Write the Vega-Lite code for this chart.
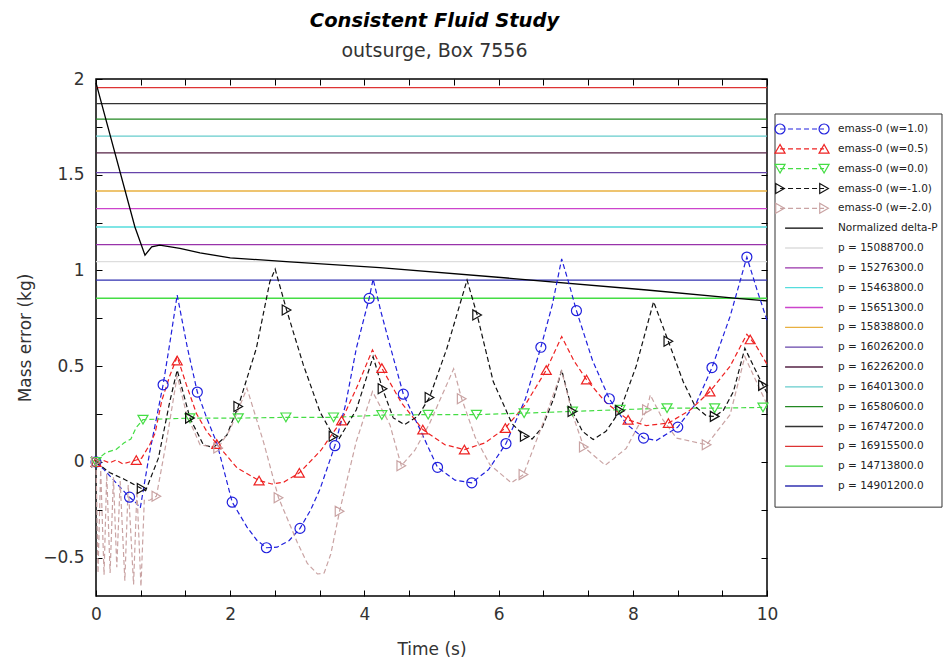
{
  "$schema": "https://vega.github.io/schema/vega-lite/v6.json",
  "padding": {"left": 15, "top": 10, "right": 0, "bottom": 0},
  "background": "white",
  "title": {"text": "Consistent Fluid Study", "subtitle": "outsurge, Box 7556", "font": "DejaVu Sans", "fontSize": 19.5, "fontStyle": "italic", "fontWeight": "bold", "color": "#000", "subtitleFont": "DejaVu Sans", "subtitleFontSize": 19, "subtitleColor": "#333", "subtitlePadding": 11, "offset": 7, "anchor": "middle", "dx": -45},
  "spacing": 8,
  "bounds": "flush",
  "datasets": {
    "plines": [
      {"s": "p = 14713800.0", "m": 0.855},
      {"s": "p = 14901200.0", "m": 0.950},
      {"s": "p = 15088700.0", "m": 1.046},
      {"s": "p = 15276300.0", "m": 1.135},
      {"s": "p = 15463800.0", "m": 1.227},
      {"s": "p = 15651300.0", "m": 1.323},
      {"s": "p = 15838800.0", "m": 1.415},
      {"s": "p = 16026200.0", "m": 1.511},
      {"s": "p = 16226200.0", "m": 1.614},
      {"s": "p = 16401300.0", "m": 1.702},
      {"s": "p = 16580600.0", "m": 1.790},
      {"s": "p = 16747200.0", "m": 1.871},
      {"s": "p = 16915500.0", "m": 1.955}
    ],
    "dp": [
      {"t": 0, "m": 1.98}, {"t": 0.58, "m": 1.227}, {"t": 0.73, "m": 1.08}, {"t": 0.83, "m": 1.123}, {"t": 0.95, "m": 1.132}, {"t": 1.25, "m": 1.115}, {"t": 1.55, "m": 1.092}, {"t": 2.0, "m": 1.066}, {"t": 2.89, "m": 1.045}, {"t": 4.23, "m": 1.015}, {"t": 6.22, "m": 0.958}, {"t": 8.21, "m": 0.898}, {"t": 9.55, "m": 0.854}, {"t": 10, "m": 0.841}
    ],
    "lines": [
      {"s": "emass-0 (w=1.0)", "t": 0, "m": 0}, {"s": "emass-0 (w=1.0)", "t": 0.12, "m": -0.04}, {"s": "emass-0 (w=1.0)", "t": 0.25, "m": -0.09}, {"s": "emass-0 (w=1.0)", "t": 0.38, "m": -0.14}, {"s": "emass-0 (w=1.0)", "t": 0.5, "m": -0.184}, {"s": "emass-0 (w=1.0)", "t": 0.6, "m": -0.215}, {"s": "emass-0 (w=1.0)", "t": 0.66, "m": -0.24}, {"s": "emass-0 (w=1.0)", "t": 0.8, "m": 0.05}, {"s": "emass-0 (w=1.0)", "t": 1.0, "m": 0.403}, {"s": "emass-0 (w=1.0)", "t": 1.1, "m": 0.62}, {"s": "emass-0 (w=1.0)", "t": 1.21, "m": 0.872}, {"s": "emass-0 (w=1.0)", "t": 1.36, "m": 0.6}, {"s": "emass-0 (w=1.0)", "t": 1.51, "m": 0.365}, {"s": "emass-0 (w=1.0)", "t": 1.66, "m": 0.22}, {"s": "emass-0 (w=1.0)", "t": 1.8, "m": 0.1}, {"s": "emass-0 (w=1.0)", "t": 2.03, "m": -0.21}, {"s": "emass-0 (w=1.0)", "t": 2.25, "m": -0.34}, {"s": "emass-0 (w=1.0)", "t": 2.4, "m": -0.41}, {"s": "emass-0 (w=1.0)", "t": 2.54, "m": -0.448}, {"s": "emass-0 (w=1.0)", "t": 2.7, "m": -0.445}, {"s": "emass-0 (w=1.0)", "t": 2.88, "m": -0.41}, {"s": "emass-0 (w=1.0)", "t": 3.04, "m": -0.347}, {"s": "emass-0 (w=1.0)", "t": 3.2, "m": -0.25}, {"s": "emass-0 (w=1.0)", "t": 3.34, "m": -0.14}, {"s": "emass-0 (w=1.0)", "t": 3.56, "m": 0.085}, {"s": "emass-0 (w=1.0)", "t": 3.72, "m": 0.3}, {"s": "emass-0 (w=1.0)", "t": 3.88, "m": 0.594}, {"s": "emass-0 (w=1.0)", "t": 4.07, "m": 0.854}, {"s": "emass-0 (w=1.0)", "t": 4.13, "m": 0.955}, {"s": "emass-0 (w=1.0)", "t": 4.25, "m": 0.78}, {"s": "emass-0 (w=1.0)", "t": 4.38, "m": 0.61}, {"s": "emass-0 (w=1.0)", "t": 4.58, "m": 0.354}, {"s": "emass-0 (w=1.0)", "t": 4.83, "m": 0.169}, {"s": "emass-0 (w=1.0)", "t": 5.09, "m": -0.028}, {"s": "emass-0 (w=1.0)", "t": 5.35, "m": -0.095}, {"s": "emass-0 (w=1.0)", "t": 5.6, "m": -0.109}, {"s": "emass-0 (w=1.0)", "t": 5.85, "m": -0.04}, {"s": "emass-0 (w=1.0)", "t": 6.11, "m": 0.096}, {"s": "emass-0 (w=1.0)", "t": 6.4, "m": 0.33}, {"s": "emass-0 (w=1.0)", "t": 6.63, "m": 0.599}, {"s": "emass-0 (w=1.0)", "t": 6.8, "m": 0.82}, {"s": "emass-0 (w=1.0)", "t": 6.94, "m": 1.06}, {"s": "emass-0 (w=1.0)", "t": 7.05, "m": 0.93}, {"s": "emass-0 (w=1.0)", "t": 7.16, "m": 0.79}, {"s": "emass-0 (w=1.0)", "t": 7.4, "m": 0.53}, {"s": "emass-0 (w=1.0)", "t": 7.65, "m": 0.33}, {"s": "emass-0 (w=1.0)", "t": 7.9, "m": 0.2}, {"s": "emass-0 (w=1.0)", "t": 8.16, "m": 0.125}, {"s": "emass-0 (w=1.0)", "t": 8.35, "m": 0.112}, {"s": "emass-0 (w=1.0)", "t": 8.67, "m": 0.182}, {"s": "emass-0 (w=1.0)", "t": 8.95, "m": 0.31}, {"s": "emass-0 (w=1.0)", "t": 9.18, "m": 0.493}, {"s": "emass-0 (w=1.0)", "t": 9.45, "m": 0.76}, {"s": "emass-0 (w=1.0)", "t": 9.7, "m": 1.07}, {"s": "emass-0 (w=1.0)", "t": 9.85, "m": 0.9}, {"s": "emass-0 (w=1.0)", "t": 10, "m": 0.74},

      {"s": "emass-0 (w=0.5)", "t": 0, "m": 0}, {"s": "emass-0 (w=0.5)", "t": 0.1, "m": 0.01}, {"s": "emass-0 (w=0.5)", "t": 0.2, "m": -0.005}, {"s": "emass-0 (w=0.5)", "t": 0.3, "m": 0.01}, {"s": "emass-0 (w=0.5)", "t": 0.4, "m": -0.01}, {"s": "emass-0 (w=0.5)", "t": 0.5, "m": 0.0}, {"s": "emass-0 (w=0.5)", "t": 0.6, "m": 0.01}, {"s": "emass-0 (w=0.5)", "t": 0.68, "m": 0.02}, {"s": "emass-0 (w=0.5)", "t": 0.8, "m": 0.09}, {"s": "emass-0 (w=0.5)", "t": 0.88, "m": 0.15}, {"s": "emass-0 (w=0.5)", "t": 0.98, "m": 0.32}, {"s": "emass-0 (w=0.5)", "t": 1.1, "m": 0.45}, {"s": "emass-0 (w=0.5)", "t": 1.21, "m": 0.55}, {"s": "emass-0 (w=0.5)", "t": 1.35, "m": 0.4}, {"s": "emass-0 (w=0.5)", "t": 1.5, "m": 0.25}, {"s": "emass-0 (w=0.5)", "t": 1.65, "m": 0.16}, {"s": "emass-0 (w=0.5)", "t": 1.8, "m": 0.094}, {"s": "emass-0 (w=0.5)", "t": 2.1, "m": -0.03}, {"s": "emass-0 (w=0.5)", "t": 2.43, "m": -0.097}, {"s": "emass-0 (w=0.5)", "t": 2.62, "m": -0.115}, {"s": "emass-0 (w=0.5)", "t": 2.8, "m": -0.105}, {"s": "emass-0 (w=0.5)", "t": 3.03, "m": -0.057}, {"s": "emass-0 (w=0.5)", "t": 3.35, "m": 0.06}, {"s": "emass-0 (w=0.5)", "t": 3.66, "m": 0.216}, {"s": "emass-0 (w=0.5)", "t": 3.9, "m": 0.4}, {"s": "emass-0 (w=0.5)", "t": 4.12, "m": 0.585}, {"s": "emass-0 (w=0.5)", "t": 4.26, "m": 0.49}, {"s": "emass-0 (w=0.5)", "t": 4.55, "m": 0.31}, {"s": "emass-0 (w=0.5)", "t": 4.87, "m": 0.169}, {"s": "emass-0 (w=0.5)", "t": 5.2, "m": 0.09}, {"s": "emass-0 (w=0.5)", "t": 5.49, "m": 0.065}, {"s": "emass-0 (w=0.5)", "t": 5.8, "m": 0.1}, {"s": "emass-0 (w=0.5)", "t": 6.1, "m": 0.177}, {"s": "emass-0 (w=0.5)", "t": 6.4, "m": 0.3}, {"s": "emass-0 (w=0.5)", "t": 6.71, "m": 0.48}, {"s": "emass-0 (w=0.5)", "t": 6.94, "m": 0.655}, {"s": "emass-0 (w=0.5)", "t": 7.12, "m": 0.53}, {"s": "emass-0 (w=0.5)", "t": 7.31, "m": 0.43}, {"s": "emass-0 (w=0.5)", "t": 7.6, "m": 0.31}, {"s": "emass-0 (w=0.5)", "t": 7.93, "m": 0.22}, {"s": "emass-0 (w=0.5)", "t": 8.2, "m": 0.19}, {"s": "emass-0 (w=0.5)", "t": 8.53, "m": 0.203}, {"s": "emass-0 (w=0.5)", "t": 8.85, "m": 0.27}, {"s": "emass-0 (w=0.5)", "t": 9.15, "m": 0.368}, {"s": "emass-0 (w=0.5)", "t": 9.45, "m": 0.5}, {"s": "emass-0 (w=0.5)", "t": 9.7, "m": 0.667}, {"s": "emass-0 (w=0.5)", "t": 9.85, "m": 0.6}, {"s": "emass-0 (w=0.5)", "t": 10, "m": 0.51},

      {"s": "emass-0 (w=0.0)", "t": 0, "m": 0}, {"s": "emass-0 (w=0.0)", "t": 0.08, "m": 0.03}, {"s": "emass-0 (w=0.0)", "t": 0.15, "m": 0.05}, {"s": "emass-0 (w=0.0)", "t": 0.3, "m": 0.065}, {"s": "emass-0 (w=0.0)", "t": 0.42, "m": 0.1}, {"s": "emass-0 (w=0.0)", "t": 0.52, "m": 0.12}, {"s": "emass-0 (w=0.0)", "t": 0.6, "m": 0.18}, {"s": "emass-0 (w=0.0)", "t": 0.7, "m": 0.221}, {"s": "emass-0 (w=0.0)", "t": 1.4, "m": 0.229}, {"s": "emass-0 (w=0.0)", "t": 2.12, "m": 0.229}, {"s": "emass-0 (w=0.0)", "t": 2.83, "m": 0.233}, {"s": "emass-0 (w=0.0)", "t": 3.54, "m": 0.233}, {"s": "emass-0 (w=0.0)", "t": 4.26, "m": 0.245}, {"s": "emass-0 (w=0.0)", "t": 4.95, "m": 0.247}, {"s": "emass-0 (w=0.0)", "t": 5.67, "m": 0.247}, {"s": "emass-0 (w=0.0)", "t": 6.38, "m": 0.255}, {"s": "emass-0 (w=0.0)", "t": 7.1, "m": 0.264}, {"s": "emass-0 (w=0.0)", "t": 7.81, "m": 0.273}, {"s": "emass-0 (w=0.0)", "t": 8.51, "m": 0.281}, {"s": "emass-0 (w=0.0)", "t": 9.22, "m": 0.281}, {"s": "emass-0 (w=0.0)", "t": 9.94, "m": 0.285}, {"s": "emass-0 (w=0.0)", "t": 10, "m": 0.285},

      {"s": "emass-0 (w=-1.0)", "t": 0, "m": 0}, {"s": "emass-0 (w=-1.0)", "t": 0.2, "m": -0.055}, {"s": "emass-0 (w=-1.0)", "t": 0.42, "m": -0.09}, {"s": "emass-0 (w=-1.0)", "t": 0.68, "m": -0.139}, {"s": "emass-0 (w=-1.0)", "t": 0.74, "m": -0.15}, {"s": "emass-0 (w=-1.0)", "t": 0.93, "m": 0.02}, {"s": "emass-0 (w=-1.0)", "t": 1.1, "m": 0.316}, {"s": "emass-0 (w=-1.0)", "t": 1.21, "m": 0.48}, {"s": "emass-0 (w=-1.0)", "t": 1.4, "m": 0.229}, {"s": "emass-0 (w=-1.0)", "t": 1.6, "m": 0.09}, {"s": "emass-0 (w=-1.0)", "t": 1.75, "m": 0.075}, {"s": "emass-0 (w=-1.0)", "t": 1.95, "m": 0.14}, {"s": "emass-0 (w=-1.0)", "t": 2.12, "m": 0.29}, {"s": "emass-0 (w=-1.0)", "t": 2.39, "m": 0.594}, {"s": "emass-0 (w=-1.0)", "t": 2.59, "m": 0.94}, {"s": "emass-0 (w=-1.0)", "t": 2.67, "m": 1.007}, {"s": "emass-0 (w=-1.0)", "t": 2.84, "m": 0.794}, {"s": "emass-0 (w=-1.0)", "t": 3.09, "m": 0.507}, {"s": "emass-0 (w=-1.0)", "t": 3.34, "m": 0.26}, {"s": "emass-0 (w=-1.0)", "t": 3.54, "m": 0.134}, {"s": "emass-0 (w=-1.0)", "t": 3.62, "m": 0.12}, {"s": "emass-0 (w=-1.0)", "t": 3.88, "m": 0.273}, {"s": "emass-0 (w=-1.0)", "t": 4.13, "m": 0.55}, {"s": "emass-0 (w=-1.0)", "t": 4.27, "m": 0.382}, {"s": "emass-0 (w=-1.0)", "t": 4.43, "m": 0.23}, {"s": "emass-0 (w=-1.0)", "t": 4.6, "m": 0.195}, {"s": "emass-0 (w=-1.0)", "t": 4.8, "m": 0.24}, {"s": "emass-0 (w=-1.0)", "t": 4.97, "m": 0.337}, {"s": "emass-0 (w=-1.0)", "t": 5.23, "m": 0.594}, {"s": "emass-0 (w=-1.0)", "t": 5.53, "m": 0.95}, {"s": "emass-0 (w=-1.0)", "t": 5.68, "m": 0.768}, {"s": "emass-0 (w=-1.0)", "t": 5.92, "m": 0.42}, {"s": "emass-0 (w=-1.0)", "t": 6.2, "m": 0.2}, {"s": "emass-0 (w=-1.0)", "t": 6.39, "m": 0.134}, {"s": "emass-0 (w=-1.0)", "t": 6.5, "m": 0.12}, {"s": "emass-0 (w=-1.0)", "t": 6.65, "m": 0.18}, {"s": "emass-0 (w=-1.0)", "t": 6.82, "m": 0.33}, {"s": "emass-0 (w=-1.0)", "t": 6.94, "m": 0.48}, {"s": "emass-0 (w=-1.0)", "t": 7.1, "m": 0.264}, {"s": "emass-0 (w=-1.0)", "t": 7.25, "m": 0.16}, {"s": "emass-0 (w=-1.0)", "t": 7.41, "m": 0.117}, {"s": "emass-0 (w=-1.0)", "t": 7.6, "m": 0.16}, {"s": "emass-0 (w=-1.0)", "t": 7.81, "m": 0.268}, {"s": "emass-0 (w=-1.0)", "t": 8.05, "m": 0.5}, {"s": "emass-0 (w=-1.0)", "t": 8.31, "m": 0.837}, {"s": "emass-0 (w=-1.0)", "t": 8.53, "m": 0.63}, {"s": "emass-0 (w=-1.0)", "t": 8.75, "m": 0.42}, {"s": "emass-0 (w=-1.0)", "t": 8.93, "m": 0.29}, {"s": "emass-0 (w=-1.0)", "t": 9.1, "m": 0.24}, {"s": "emass-0 (w=-1.0)", "t": 9.22, "m": 0.238}, {"s": "emass-0 (w=-1.0)", "t": 9.35, "m": 0.27}, {"s": "emass-0 (w=-1.0)", "t": 9.5, "m": 0.368}, {"s": "emass-0 (w=-1.0)", "t": 9.67, "m": 0.594}, {"s": "emass-0 (w=-1.0)", "t": 9.8, "m": 0.5}, {"s": "emass-0 (w=-1.0)", "t": 9.94, "m": 0.4}, {"s": "emass-0 (w=-1.0)", "t": 10, "m": 0.36},

      {"s": "emass-0 (w=-2.0)", "t": 0, "m": 0}, {"s": "emass-0 (w=-2.0)", "t": 0.03, "m": -0.58}, {"s": "emass-0 (w=-2.0)", "t": 0.07, "m": -0.04}, {"s": "emass-0 (w=-2.0)", "t": 0.12, "m": -0.59}, {"s": "emass-0 (w=-2.0)", "t": 0.16, "m": -0.06}, {"s": "emass-0 (w=-2.0)", "t": 0.21, "m": -0.58}, {"s": "emass-0 (w=-2.0)", "t": 0.26, "m": -0.08}, {"s": "emass-0 (w=-2.0)", "t": 0.31, "m": -0.55}, {"s": "emass-0 (w=-2.0)", "t": 0.36, "m": -0.1}, {"s": "emass-0 (w=-2.0)", "t": 0.43, "m": -0.62}, {"s": "emass-0 (w=-2.0)", "t": 0.48, "m": -0.12}, {"s": "emass-0 (w=-2.0)", "t": 0.56, "m": -0.64}, {"s": "emass-0 (w=-2.0)", "t": 0.61, "m": -0.15}, {"s": "emass-0 (w=-2.0)", "t": 0.67, "m": -0.65}, {"s": "emass-0 (w=-2.0)", "t": 0.72, "m": -0.2}, {"s": "emass-0 (w=-2.0)", "t": 0.8, "m": -0.2}, {"s": "emass-0 (w=-2.0)", "t": 0.9, "m": -0.179}, {"s": "emass-0 (w=-2.0)", "t": 1.05, "m": 0.108}, {"s": "emass-0 (w=-2.0)", "t": 1.21, "m": 0.45}, {"s": "emass-0 (w=-2.0)", "t": 1.35, "m": 0.25}, {"s": "emass-0 (w=-2.0)", "t": 1.55, "m": 0.09}, {"s": "emass-0 (w=-2.0)", "t": 1.82, "m": 0.073}, {"s": "emass-0 (w=-2.0)", "t": 2.0, "m": 0.17}, {"s": "emass-0 (w=-2.0)", "t": 2.25, "m": 0.385}, {"s": "emass-0 (w=-2.0)", "t": 2.5, "m": 0.1}, {"s": "emass-0 (w=-2.0)", "t": 2.72, "m": -0.187}, {"s": "emass-0 (w=-2.0)", "t": 3.0, "m": -0.42}, {"s": "emass-0 (w=-2.0)", "t": 3.15, "m": -0.53}, {"s": "emass-0 (w=-2.0)", "t": 3.3, "m": -0.585}, {"s": "emass-0 (w=-2.0)", "t": 3.4, "m": -0.58}, {"s": "emass-0 (w=-2.0)", "t": 3.5, "m": -0.48}, {"s": "emass-0 (w=-2.0)", "t": 3.63, "m": -0.257}, {"s": "emass-0 (w=-2.0)", "t": 3.88, "m": 0.108}, {"s": "emass-0 (w=-2.0)", "t": 4.12, "m": 0.368}, {"s": "emass-0 (w=-2.0)", "t": 4.38, "m": 0.195}, {"s": "emass-0 (w=-2.0)", "t": 4.55, "m": -0.02}, {"s": "emass-0 (w=-2.0)", "t": 4.75, "m": 0.06}, {"s": "emass-0 (w=-2.0)", "t": 4.97, "m": 0.2}, {"s": "emass-0 (w=-2.0)", "t": 5.33, "m": 0.486}, {"s": "emass-0 (w=-2.0)", "t": 5.45, "m": 0.33}, {"s": "emass-0 (w=-2.0)", "t": 5.65, "m": 0.13}, {"s": "emass-0 (w=-2.0)", "t": 5.87, "m": -0.014}, {"s": "emass-0 (w=-2.0)", "t": 6.19, "m": -0.109}, {"s": "emass-0 (w=-2.0)", "t": 6.37, "m": -0.066}, {"s": "emass-0 (w=-2.0)", "t": 6.71, "m": 0.247}, {"s": "emass-0 (w=-2.0)", "t": 6.94, "m": 0.476}, {"s": "emass-0 (w=-2.0)", "t": 7.1, "m": 0.25}, {"s": "emass-0 (w=-2.0)", "t": 7.27, "m": 0.078}, {"s": "emass-0 (w=-2.0)", "t": 7.59, "m": -0.017}, {"s": "emass-0 (w=-2.0)", "t": 7.9, "m": 0.07}, {"s": "emass-0 (w=-2.0)", "t": 8.21, "m": 0.273}, {"s": "emass-0 (w=-2.0)", "t": 8.26, "m": 0.35}, {"s": "emass-0 (w=-2.0)", "t": 8.45, "m": 0.22}, {"s": "emass-0 (w=-2.0)", "t": 8.65, "m": 0.125}, {"s": "emass-0 (w=-2.0)", "t": 9.1, "m": 0.09}, {"s": "emass-0 (w=-2.0)", "t": 9.45, "m": 0.247}, {"s": "emass-0 (w=-2.0)", "t": 9.67, "m": 0.55}, {"s": "emass-0 (w=-2.0)", "t": 10, "m": 0.3}
    ],
    "pts": [
      {"s": "emass-0 (w=1.0)", "t": 0, "m": 0}, {"s": "emass-0 (w=1.0)", "t": 0.5, "m": -0.184}, {"s": "emass-0 (w=1.0)", "t": 1.0, "m": 0.403}, {"s": "emass-0 (w=1.0)", "t": 1.51, "m": 0.365}, {"s": "emass-0 (w=1.0)", "t": 2.03, "m": -0.21}, {"s": "emass-0 (w=1.0)", "t": 2.54, "m": -0.448}, {"s": "emass-0 (w=1.0)", "t": 3.04, "m": -0.347}, {"s": "emass-0 (w=1.0)", "t": 3.56, "m": 0.085}, {"s": "emass-0 (w=1.0)", "t": 4.07, "m": 0.854}, {"s": "emass-0 (w=1.0)", "t": 4.58, "m": 0.354}, {"s": "emass-0 (w=1.0)", "t": 5.09, "m": -0.028}, {"s": "emass-0 (w=1.0)", "t": 5.6, "m": -0.109}, {"s": "emass-0 (w=1.0)", "t": 6.11, "m": 0.096}, {"s": "emass-0 (w=1.0)", "t": 6.63, "m": 0.599}, {"s": "emass-0 (w=1.0)", "t": 7.16, "m": 0.79}, {"s": "emass-0 (w=1.0)", "t": 7.65, "m": 0.33}, {"s": "emass-0 (w=1.0)", "t": 8.16, "m": 0.125}, {"s": "emass-0 (w=1.0)", "t": 8.67, "m": 0.182}, {"s": "emass-0 (w=1.0)", "t": 9.18, "m": 0.493}, {"s": "emass-0 (w=1.0)", "t": 9.7, "m": 1.07},
      {"s": "emass-0 (w=0.5)", "t": 0, "m": 0}, {"s": "emass-0 (w=0.5)", "t": 0.6, "m": 0.01}, {"s": "emass-0 (w=0.5)", "t": 1.21, "m": 0.53}, {"s": "emass-0 (w=0.5)", "t": 1.8, "m": 0.094}, {"s": "emass-0 (w=0.5)", "t": 2.43, "m": -0.097}, {"s": "emass-0 (w=0.5)", "t": 3.03, "m": -0.057}, {"s": "emass-0 (w=0.5)", "t": 3.66, "m": 0.216}, {"s": "emass-0 (w=0.5)", "t": 4.26, "m": 0.49}, {"s": "emass-0 (w=0.5)", "t": 4.87, "m": 0.169}, {"s": "emass-0 (w=0.5)", "t": 5.49, "m": 0.065}, {"s": "emass-0 (w=0.5)", "t": 6.1, "m": 0.177}, {"s": "emass-0 (w=0.5)", "t": 6.71, "m": 0.48}, {"s": "emass-0 (w=0.5)", "t": 7.31, "m": 0.43}, {"s": "emass-0 (w=0.5)", "t": 7.93, "m": 0.22}, {"s": "emass-0 (w=0.5)", "t": 8.53, "m": 0.203}, {"s": "emass-0 (w=0.5)", "t": 9.15, "m": 0.368}, {"s": "emass-0 (w=0.5)", "t": 9.75, "m": 0.64},
      {"s": "emass-0 (w=0.0)", "t": 0, "m": 0}, {"s": "emass-0 (w=0.0)", "t": 0.7, "m": 0.221}, {"s": "emass-0 (w=0.0)", "t": 1.4, "m": 0.229}, {"s": "emass-0 (w=0.0)", "t": 2.12, "m": 0.229}, {"s": "emass-0 (w=0.0)", "t": 2.83, "m": 0.233}, {"s": "emass-0 (w=0.0)", "t": 3.54, "m": 0.233}, {"s": "emass-0 (w=0.0)", "t": 4.26, "m": 0.245}, {"s": "emass-0 (w=0.0)", "t": 4.95, "m": 0.247}, {"s": "emass-0 (w=0.0)", "t": 5.67, "m": 0.247}, {"s": "emass-0 (w=0.0)", "t": 6.38, "m": 0.255}, {"s": "emass-0 (w=0.0)", "t": 7.1, "m": 0.264}, {"s": "emass-0 (w=0.0)", "t": 7.81, "m": 0.273}, {"s": "emass-0 (w=0.0)", "t": 8.51, "m": 0.281}, {"s": "emass-0 (w=0.0)", "t": 9.22, "m": 0.281}, {"s": "emass-0 (w=0.0)", "t": 9.94, "m": 0.285},
      {"s": "emass-0 (w=-1.0)", "t": 0, "m": 0}, {"s": "emass-0 (w=-1.0)", "t": 0.68, "m": -0.139}, {"s": "emass-0 (w=-1.0)", "t": 1.4, "m": 0.229}, {"s": "emass-0 (w=-1.0)", "t": 2.12, "m": 0.29}, {"s": "emass-0 (w=-1.0)", "t": 2.84, "m": 0.794}, {"s": "emass-0 (w=-1.0)", "t": 3.54, "m": 0.134}, {"s": "emass-0 (w=-1.0)", "t": 4.27, "m": 0.382}, {"s": "emass-0 (w=-1.0)", "t": 4.97, "m": 0.337}, {"s": "emass-0 (w=-1.0)", "t": 5.68, "m": 0.768}, {"s": "emass-0 (w=-1.0)", "t": 6.39, "m": 0.134}, {"s": "emass-0 (w=-1.0)", "t": 7.1, "m": 0.264}, {"s": "emass-0 (w=-1.0)", "t": 7.81, "m": 0.268}, {"s": "emass-0 (w=-1.0)", "t": 8.53, "m": 0.63}, {"s": "emass-0 (w=-1.0)", "t": 9.22, "m": 0.238}, {"s": "emass-0 (w=-1.0)", "t": 9.94, "m": 0.4},
      {"s": "emass-0 (w=-2.0)", "t": 0, "m": 0}, {"s": "emass-0 (w=-2.0)", "t": 0.9, "m": -0.179}, {"s": "emass-0 (w=-2.0)", "t": 1.82, "m": 0.073}, {"s": "emass-0 (w=-2.0)", "t": 2.72, "m": -0.187}, {"s": "emass-0 (w=-2.0)", "t": 3.63, "m": -0.257}, {"s": "emass-0 (w=-2.0)", "t": 4.55, "m": -0.02}, {"s": "emass-0 (w=-2.0)", "t": 5.45, "m": 0.33}, {"s": "emass-0 (w=-2.0)", "t": 6.37, "m": -0.066}, {"s": "emass-0 (w=-2.0)", "t": 7.27, "m": 0.078}, {"s": "emass-0 (w=-2.0)", "t": 8.21, "m": 0.273}, {"s": "emass-0 (w=-2.0)", "t": 9.1, "m": 0.09}
    ],
    "legend": [
      {"s": "emass-0 (w=1.0)", "k": "m"},
      {"s": "emass-0 (w=0.5)", "k": "m"},
      {"s": "emass-0 (w=0.0)", "k": "m"},
      {"s": "emass-0 (w=-1.0)", "k": "m"},
      {"s": "emass-0 (w=-2.0)", "k": "m"},
      {"s": "Normalized delta-P", "k": "l"},
      {"s": "p = 15088700.0", "k": "l"},
      {"s": "p = 15276300.0", "k": "l"},
      {"s": "p = 15463800.0", "k": "l"},
      {"s": "p = 15651300.0", "k": "l"},
      {"s": "p = 15838800.0", "k": "l"},
      {"s": "p = 16026200.0", "k": "l"},
      {"s": "p = 16226200.0", "k": "l"},
      {"s": "p = 16401300.0", "k": "l"},
      {"s": "p = 16580600.0", "k": "l"},
      {"s": "p = 16747200.0", "k": "l"},
      {"s": "p = 16915500.0", "k": "l"},
      {"s": "p = 14713800.0", "k": "l"},
      {"s": "p = 14901200.0", "k": "l"}
    ],
    "box": [{"name": "legend frame"}]
  },
  "hconcat": [
    {
      "width": 671,
      "height": 517,
      "view": {"stroke": "#000", "strokeWidth": 1.5, "fill": "white"},
      "layer": [
        {
          "data": {"name": "plines"},
          "mark": {"type": "rule", "strokeWidth": 1.3},
          "encoding": {
            "y": {"field": "m", "type": "quantitative", "scale": {"domain": [-0.7, 2], "nice": false, "zero": false},
              "axis": {"orient": "left", "values": [-0.5, -0.25, 0, 0.25, 0.5, 0.75, 1, 1.25, 1.5, 1.75, 2], "labelExpr": "abs(datum.value*2 - round(datum.value*2)) < 0.01 ? format(datum.value, '') : ''", "labelPadding": 18, "title": "Mass error (kg)", "titlePadding": 8}},
            "color": {"field": "s", "type": "nominal", "legend": null,
              "scale": {"domain": ["emass-0 (w=1.0)", "emass-0 (w=0.5)", "emass-0 (w=0.0)", "emass-0 (w=-1.0)", "emass-0 (w=-2.0)", "Normalized delta-P", "p = 15088700.0", "p = 15276300.0", "p = 15463800.0", "p = 15651300.0", "p = 15838800.0", "p = 16026200.0", "p = 16226200.0", "p = 16401300.0", "p = 16580600.0", "p = 16747200.0", "p = 16915500.0", "p = 14713800.0", "p = 14901200.0"],
                "range": ["#2020dd", "#ee2222", "#44dd44", "#111111", "#c9a3a3", "#000000", "#dddddd", "#9933aa", "#55dddd", "#cc44cc", "#e8b040", "#6644aa", "#552244", "#66cccc", "#228822", "#333333", "#dd3333", "#44dd44", "#3030b0"]}}
          }
        },
        {
          "data": {"name": "dp"},
          "mark": {"type": "line", "color": "#000", "strokeWidth": 1.3},
          "encoding": {
            "x": {"field": "t", "type": "quantitative", "scale": {"domain": [0, 10], "nice": false, "zero": false},
              "axis": {"orient": "top", "values": [0, 0.6667, 1.3333, 2, 2.6667, 3.3333, 4, 4.6667, 5.3333, 6, 6.6667, 7.3333, 8, 8.6667, 9.3333, 10], "labels": false, "title": null}},
            "y": {"field": "m", "type": "quantitative", "scale": {"domain": [-0.7, 2], "nice": false, "zero": false},
              "axis": {"orient": "right", "values": [-0.5, -0.25, 0, 0.25, 0.5, 0.75, 1, 1.25, 1.5, 1.75, 2], "labels": false, "title": null}}
          }
        },
        {
          "data": {"name": "lines"},
          "mark": {"type": "line", "strokeWidth": 1.2, "strokeDash": [5, 3]},
          "encoding": {
            "x": {"field": "t", "type": "quantitative", "scale": {"domain": [0, 10], "nice": false, "zero": false},
              "axis": {"orient": "bottom", "values": [0, 0.6667, 1.3333, 2, 2.6667, 3.3333, 4, 4.6667, 5.3333, 6, 6.6667, 7.3333, 8, 8.6667, 9.3333, 10], "labelExpr": "abs(datum.value - round(datum.value)) < 0.01 ? format(datum.value, 'd') : ''", "labelFlush": false, "labelPadding": 16, "title": "Time (s)", "titlePadding": 19}},
            "y": {"field": "m", "type": "quantitative", "axis": null},
            "color": {"field": "s", "type": "nominal", "legend": null},
            "detail": {"field": "s"},
            "order": {"field": "t", "type": "quantitative"}
          }
        },
        {
          "data": {"name": "pts"},
          "mark": {"type": "point", "filled": false, "size": 100, "strokeWidth": 1.2, "opacity": 1},
          "encoding": {
            "x": {"field": "t", "type": "quantitative", "axis": null},
            "y": {"field": "m", "type": "quantitative", "axis": null},
            "color": {"field": "s", "type": "nominal", "legend": null},
            "shape": {"field": "s", "type": "nominal", "legend": null,
              "scale": {"domain": ["emass-0 (w=1.0)", "emass-0 (w=0.5)", "emass-0 (w=0.0)", "emass-0 (w=-1.0)", "emass-0 (w=-2.0)"], "range": ["circle", "triangle-up", "triangle-down", "triangle-right", "triangle-right"]}}
          }
        }
      ],
      "resolve": {"axis": {"x": "independent", "y": "independent"}}
    },
    {
      "width": 168,
      "height": 429,
      "view": {"stroke": null},
      "layer": [
        {
          "data": {"name": "box"},
          "mark": {"type": "rect", "fill": "white", "stroke": "#333", "strokeWidth": 1},
          "encoding": {
            "x": {"datum": 0, "type": "quantitative", "scale": {"domain": [0, 1]}, "axis": null},
            "x2": {"datum": 0.994},
            "y": {"datum": 0.0816, "type": "quantitative", "scale": {"domain": [0, 1], "reverse": true}, "axis": null},
            "y2": {"datum": 0.998}
          }
        },
        {
          "data": {"name": "legend"},
          "encoding": {
            "y": {"field": "s", "type": "nominal", "axis": null,
              "scale": {"type": "point", "padding": 0, "domain": ["emass-0 (w=1.0)", "emass-0 (w=0.5)", "emass-0 (w=0.0)", "emass-0 (w=-1.0)", "emass-0 (w=-2.0)", "Normalized delta-P", "p = 15088700.0", "p = 15276300.0", "p = 15463800.0", "p = 15651300.0", "p = 15838800.0", "p = 16026200.0", "p = 16226200.0", "p = 16401300.0", "p = 16580600.0", "p = 16747200.0", "p = 16915500.0", "p = 14713800.0", "p = 14901200.0"], "range": [50, 407]}}
          },
          "layer": [
            {
              "transform": [{"filter": "datum.k == 'm'"}],
              "mark": {"type": "rule", "strokeWidth": 1.2, "strokeDash": [5, 3]},
              "encoding": {
                "x": {"datum": 0.03, "type": "quantitative", "scale": {"domain": [0, 1]}, "axis": null},
                "x2": {"datum": 0.292},
                "color": {"field": "s", "type": "nominal", "legend": null}
              }
            },
            {
              "transform": [{"filter": "datum.k == 'l'"}],
              "mark": {"type": "rule", "strokeWidth": 1.3},
              "encoding": {
                "x": {"datum": 0.06, "type": "quantitative", "scale": {"domain": [0, 1]}, "axis": null},
                "x2": {"datum": 0.286},
                "color": {"field": "s", "type": "nominal", "legend": null}
              }
            },
            {
              "transform": [{"filter": "datum.k == 'm'"}],
              "mark": {"type": "point", "filled": false, "size": 100, "strokeWidth": 1.2, "opacity": 1},
              "encoding": {
                "x": {"datum": 0.03, "type": "quantitative", "scale": {"domain": [0, 1]}, "axis": null},
                "color": {"field": "s", "type": "nominal", "legend": null},
                "shape": {"field": "s", "type": "nominal", "legend": null}
              }
            },
            {
              "transform": [{"filter": "datum.k == 'm'"}],
              "mark": {"type": "point", "filled": false, "size": 100, "strokeWidth": 1.2, "opacity": 1},
              "encoding": {
                "x": {"datum": 0.292, "type": "quantitative", "scale": {"domain": [0, 1]}, "axis": null},
                "color": {"field": "s", "type": "nominal", "legend": null},
                "shape": {"field": "s", "type": "nominal", "legend": null}
              }
            },
            {
              "mark": {"type": "text", "align": "left", "baseline": "middle", "font": "DejaVu Sans", "fontSize": 10.5, "color": "#222", "clip": true},
              "encoding": {
                "x": {"datum": 0.375, "type": "quantitative", "scale": {"domain": [0, 1]}, "axis": null},
                "text": {"field": "s"}
              }
            }
          ]
        }
      ],
      "resolve": {"scale": {"y": "independent"}}
    }
  ],
  "config": {
    "font": "DejaVu Sans",
    "axis": {"labelFont": "DejaVu Sans", "labelFontSize": 17, "labelColor": "#333", "titleFont": "DejaVu Sans", "titleFontSize": 17, "titleFontWeight": "normal", "titleColor": "#333", "domain": false, "grid": false, "tickColor": "#000", "tickSize": -6, "tickWidth": 1, "labelOverlap": false}
  }
}
